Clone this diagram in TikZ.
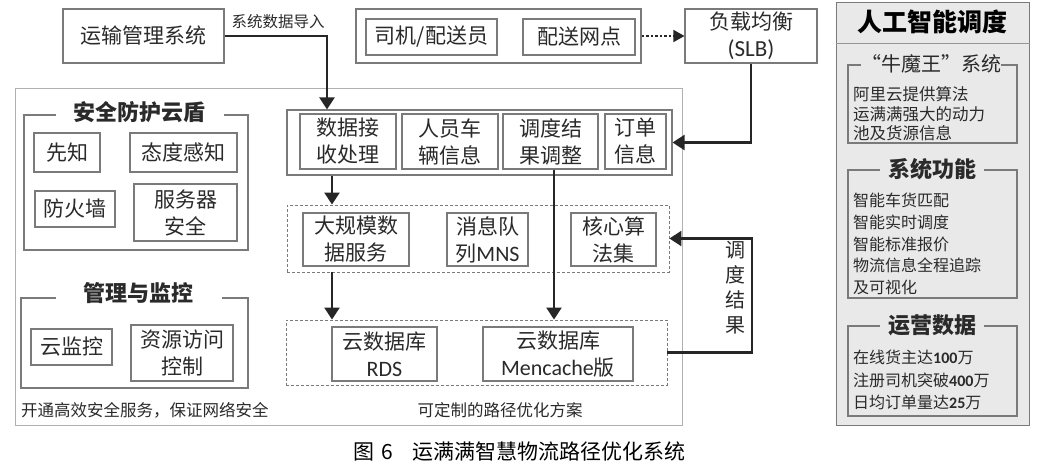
\documentclass[tikz,border=0pt]{standalone}
\usepackage{fontspec}
\newfontfamily\cjk{Noto Sans CJK SC}
\newfontfamily\lat{Carlito}
\usetikzlibrary{arrows.meta,calc}
\definecolor{bordergray}{HTML}{7A7A7A}
\definecolor{lightborder}{HTML}{B0B0B0}
\definecolor{panelgray}{HTML}{E9E9E9}
\definecolor{txt}{HTML}{2A2A2A}
\begin{document}
\begin{tikzpicture}[x=1pt,y=-1pt,
  box/.style={draw=bordergray,line width=1.1pt,inner sep=0pt,align=center,text=txt,
    font=\cjk\fontsize{21}{27}\selectfont},
  grp/.style={draw=bordergray,line width=1.1pt,inner sep=0pt},
  dbox/.style={draw=bordergray,line width=0.9pt,dash pattern=on 3pt off 2pt,inner sep=0pt},
  gtitle/.style={inner sep=0pt,text=txt,font=\cjk\bfseries\fontsize{22}{26}\selectfont},
  ptext/.style={inner sep=0pt,anchor=west,align=left,text=txt,font=\cjk\fontsize{16.5}{22}\selectfont},
  arr/.style={draw=black!85,line width=2.3pt,-{Triangle[length=12pt,width=15pt]}},
  darr/.style={draw=black!85,line width=1.6pt,dash pattern=on 2.5pt off 2pt,-{Triangle[length=11pt,width=12pt]}}
]
\useasboundingbox[fill=white] (0,0) rectangle (1038,466);

% big left container
\node[draw=lightborder,line width=1pt,minimum width=667,minimum height=337,inner sep=0pt] (main) at (348.5,256.5) {};

% top row
\node[box,minimum width=161,minimum height=54] (tms) at (143.5,36) {运输管理系统};
\node[box,minimum width=285,minimum height=54] (drv) at (498.5,36) {};
\node[box,minimum width=131,minimum height=36] (driver) at (431.5,37) {司机/配送员};
\node[box,minimum width=112,minimum height=36] (net) at (579,37) {配送网点};
\node[box,minimum width=132,minimum height=54,font=\cjk\fontsize{21}{27}\selectfont] (slb) at (751,36) {负载均衡\\{\lat\fontsize{23}{27}\selectfont (SLB)}};
\node[inner sep=0pt,text=txt,font=\cjk\fontsize{15.5}{18}\selectfont] (imp) at (278,22) {系统数据导入};

% security group
\node[grp,minimum width=224,minimum height=135] (sec) at (136,182.5) {};
\node[gtitle,fill=white,minimum width=168,minimum height=26] (sect) at (139.5,112) {安全防护云盾};
\node[box,minimum width=66,minimum height=39] (xz) at (67,152.5) {先知};
\node[box,minimum width=107,minimum height=39] (tdgz) at (183.5,152.5) {态度感知};
\node[box,minimum width=80,minimum height=36] (fhq) at (75,209) {防火墙};
\node[box,minimum width=103,minimum height=57] (fwq) at (185.5,212.5) {服务器\\安全};

% management group
\node[grp,minimum width=227,minimum height=90] (mgt) at (134.5,343) {};
\node[gtitle,fill=white,minimum width=166,minimum height=26] (mgtt) at (138.5,293) {管理与监控};
\node[box,minimum width=81,minimum height=36] (yjk) at (71.5,347) {云监控};
\node[box,minimum width=102,minimum height=56] (zyfw) at (182,353) {资源访问\\控制};
\node[ptext] (sectxt) at (21,410) {开通高效安全服务，保证网络安全};

% data row
\node[box,minimum width=385,minimum height=65] (toprow) at (479.5,142.5) {};
\node[box,minimum width=96,minimum height=55] (recv) at (348,141.5) {数据接\\收处理};
\node[box,minimum width=96,minimum height=55] (ppl) at (450,141.5) {人员车\\辆信息};
\node[box,minimum width=95,minimum height=55] (adj) at (550.5,141.5) {调度结\\果调整};
\node[box,minimum width=61,minimum height=55] (ord) at (635.5,141.5) {订单\\信息};

\node[dbox,minimum width=382,minimum height=67] (mid) at (478,238.5) {};
\node[box,minimum width=106,minimum height=53] (big) at (356,239.5) {大规模数\\据服务};
\node[box,minimum width=81,minimum height=53] (mns) at (487.5,239.5) {消息队\\列{\lat\fontsize{22}{27}\selectfont MNS}};
\node[box,minimum width=85,minimum height=53] (alg) at (613.5,239.5) {核心算\\法集};

\node[dbox,minimum width=381,minimum height=65] (db) at (476.5,352.5) {};
\node[box,minimum width=105,minimum height=54] (rds) at (384.5,354) {云数据库\\{\lat\fontsize{22}{27}\selectfont RDS}};
\node[box,minimum width=150,minimum height=54] (mem) at (558,354) {云数据库\\{\lat\fontsize{22}{27}\selectfont Mencache}版};
\node[ptext,anchor=center] (optxt) at (500,410) {可定制的路径优化方案};

\node[inner sep=0pt,align=center,text=txt,font=\cjk\fontsize{20}{25}\selectfont] (fbl) at (735,287.5) {调\\度\\结\\果};

% right panel
\node[draw=bordergray,line width=1pt,fill=panelgray,minimum width=193,minimum height=423,inner sep=0pt] (panel) at (932.5,213.5) {};
\draw[draw=bordergray!80,line width=1pt] (panel.west |- 0,43) -- (panel.east |- 0,43);
\node[inner sep=0pt,text=black,font=\cjk\bfseries\fontsize{25}{30}\selectfont] (pt) at (932.5,22) {人工智能调度};

\node[grp,minimum width=169,minimum height=78] (g1) at (932.5,104) {};
\node[inner sep=0pt,fill=panelgray,minimum width=126,minimum height=22,text=txt,font=\cjk\fontsize{20}{24}\selectfont] (g1t) at (931,64) {“牛魔王”系统};
\node[ptext,font=\cjk\fontsize{16.5}{19.5}\selectfont] (g1x) at (853,114) {阿里云提供算法\\运满满强大的动力\\池及货源信息};

\node[grp,minimum width=169,minimum height=128] (g2) at (932.5,234) {};
\node[gtitle,fill=panelgray,minimum width=104,minimum height=24] (g2t) at (932,169) {系统功能};
\node[ptext,font=\cjk\fontsize{16}{21.8}\selectfont] (g2x) at (853,244) {智能车货匹配\\智能实时调度\\智能标准报价\\物流信息全程追踪\\及可视化};

\node[grp,minimum width=169,minimum height=90] (g3) at (932.5,371) {};
\node[gtitle,fill=panelgray,minimum width=104,minimum height=24] (g3t) at (932,325) {运营数据};
\node[ptext,font=\cjk\fontsize{16}{22.5}\selectfont] (g3x) at (853,380) {在线货主达{\lat\bfseries 100}万\\注册司机突破{\lat\bfseries 400}万\\日均订单量达{\lat\bfseries 25}万};

% caption
\node[inner sep=0pt,anchor=west,text=black,font=\cjk\fontsize{21}{25}\selectfont] (cap) at (353,452) {图\hspace{7pt}6\hspace{20pt}运满满智慧物流路径优化系统};

% connectors
\coordinate (cx1) at (327,0);
\coordinate (cx2) at (332,0);
\coordinate (cx3) at (554,0);
\coordinate (cx4) at (752,0);
\draw[arr] (tms.east) -- (cx1 |- tms.east) -- (cx1 |- toprow.north);
\draw[darr] (drv.east) -- (slb.west);
\draw[arr] (slb.south) |- (toprow.east);
\draw[arr] (cx2 |- toprow.south) -- (cx2 |- mid.north);
\draw[arr] (cx2 |- mid.south) -- (cx2 |- db.north);
\draw[arr] (cx3 |- adj.south) -- (cx3 |- db.north);
\draw[arr] (db.east) -- (cx4 |- db.east) -- (cx4 |- mid.east) -- (mid.east);
\end{tikzpicture}
\end{document}
